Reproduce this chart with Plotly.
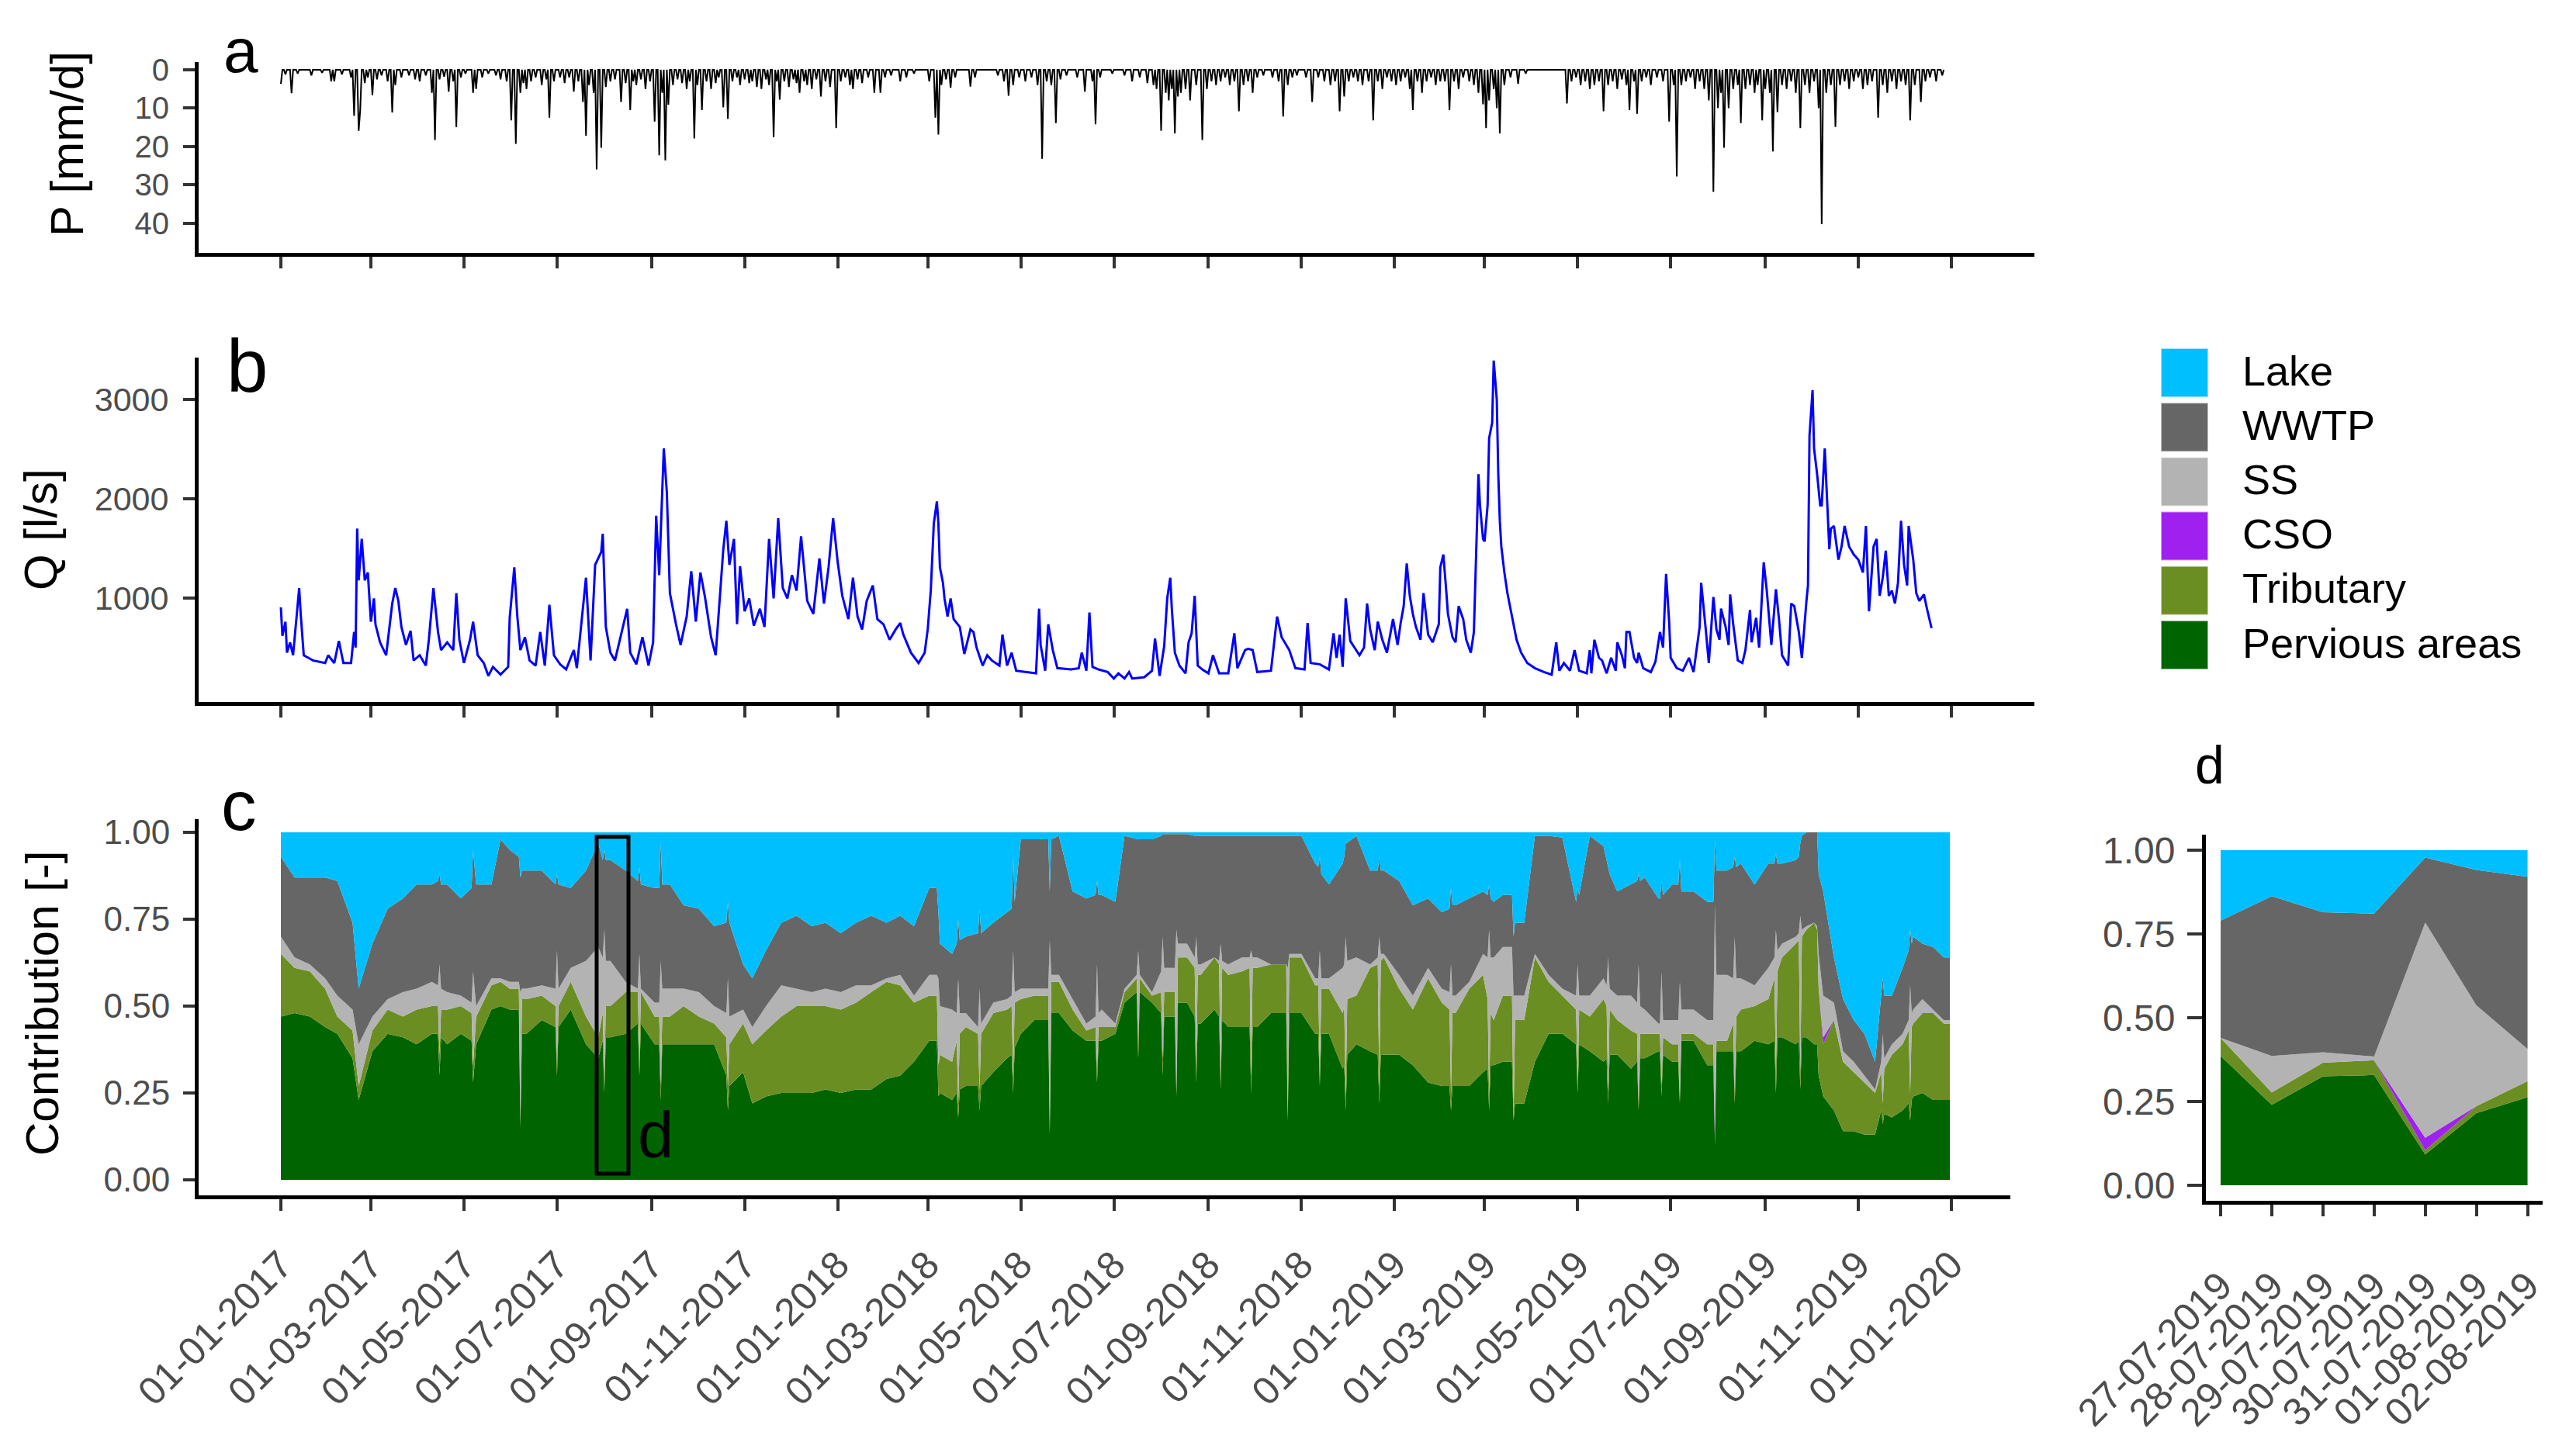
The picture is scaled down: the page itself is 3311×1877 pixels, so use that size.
import numpy as np
import pandas as pd
import plotly.graph_objects as go

W, H = 3311, 1877
START = pd.Timestamp("2017-01-01")
FONT = "Liberation Sans, Arial, sans-serif"
TICKC = "#4D4D4D"

# ---------------- panel a: daily precipitation (day offset from 01-01-2017, mm/d)
rain_day = [0, 3, 7, 11, 20, 27, 33, 35, 40, 46, 48, 51, 52, 55, 57, 60, 63, 66, 70, 73, 75, 79, 84, 88, 91, 95,
            99, 101, 104, 107, 110, 113, 115, 118, 121, 126, 128, 132, 136, 141, 144, 148, 151, 154, 157, 159,
            161, 164, 167, 171, 174, 176, 179, 183, 186, 189, 192, 195, 198, 200, 202, 205, 207, 210, 213, 216,
            219, 223, 226, 229, 231, 233, 236, 239, 242, 245, 248, 250, 252, 254, 257, 260, 263, 266, 268, 271,
            273, 276, 279, 282, 285, 287, 290, 293, 296, 299, 301, 304, 307, 309, 312, 315, 318, 320, 323, 325,
            327, 330, 333, 336, 338, 340, 343, 345, 348, 351, 354, 357, 360, 364, 367, 370, 373, 375, 378, 381,
            385, 389, 393, 396, 400, 406, 410, 415, 425, 429, 431, 433, 436, 439, 442, 452, 455, 470, 474, 477,
            480, 484, 488, 492, 496, 499, 502, 505, 508, 511, 515, 522, 527, 532, 534, 537, 545, 553, 558, 563,
            568, 572, 574, 577, 580, 582, 584, 586, 588, 590, 593, 596, 600, 604, 607, 610, 613, 616, 619, 622,
            625, 628, 631, 634, 637, 640, 644, 650, 654, 657, 660, 663, 666, 672, 676, 680, 684, 688, 691, 694,
            697, 700, 703, 706, 709, 713, 716, 719, 722, 725, 728, 731, 734, 737, 740, 742, 745, 748, 751, 754,
            757, 760, 763, 766, 769, 772, 775, 779, 782, 785, 788, 790, 792, 795, 797, 799, 802, 806, 811, 816,
            843, 846, 849, 852, 855, 858, 861, 864, 867, 870, 873, 876, 879, 882, 884, 887, 889, 892, 895, 898,
            902, 906, 910, 913, 915, 918, 921, 924, 927, 930, 933, 936, 939, 942, 944, 946, 949, 952, 955, 957,
            960, 963, 966, 968, 971, 973, 976, 978, 981, 984, 987, 990, 993, 996, 999, 1002, 1005, 1008, 1010,
            1013, 1016, 1019, 1022, 1025, 1028, 1031, 1034, 1037, 1040, 1043, 1047, 1050, 1053, 1056, 1059,
            1062, 1065, 1068, 1071, 1075, 1078, 1081, 1085, 1089]
rain_mm = [3.7, 1.2, 6.1, 1.0, 1.5, 0.8, 3.0, 3.0, 1.2, 2.0, 12.0, 15.9, 10.6, 3.5, 2.0, 6.6, 2.5, 1.5, 3.0, 11.1,
           4.0, 2.0, 1.5, 2.5, 3.0, 1.5, 6.0, 18.3, 2.5, 1.8, 5.7, 3.0, 14.9, 2.0, 1.0, 6.0, 5.0, 2.0, 1.0, 1.5,
           2.5, 3.0, 13.2, 19.3, 6.0, 3.5, 5.0, 3.0, 2.0, 4.0, 2.5, 12.5, 3.0, 2.0, 3.5, 2.0, 5.7, 3.0, 8.4,
           17.2, 4.0, 6.0, 26.0, 20.3, 4.5, 3.0, 2.5, 8.4, 3.5, 10.5, 3.0, 4.0, 2.5, 5.0, 3.0, 13.5, 22.3, 6.0,
           23.6, 9.1, 4.0, 2.5, 3.5, 5.0, 3.0, 17.9, 4.0, 10.5, 3.0, 5.0, 3.5, 2.0, 9.8, 12.8, 3.0, 2.0, 4.0,
           2.5, 3.5, 3.0, 4.5, 5.0, 2.5, 4.0, 17.6, 3.0, 7.8, 3.0, 4.5, 2.5, 3.5, 6.0, 3.0, 4.0, 5.0, 2.5, 7.0,
           3.0, 4.5, 15.2, 3.0, 2.0, 4.0, 5.0, 2.5, 3.5, 2.0, 6.0, 6.0, 2.0, 1.5, 3.0, 2.0, 1.0, 3.0, 12.5, 16.9,
           4.0, 2.5, 4.7, 2.0, 4.4, 2.0, 1.5, 3.0, 6.8, 4.0, 2.0, 3.0, 2.0, 4.0, 23.2, 3.0, 4.0, 13.9, 2.5, 1.5,
           2.0, 5.7, 3.0, 14.2, 2.0, 1.0, 1.5, 3.0, 2.0, 3.5, 4.0, 5.0, 15.9, 6.0, 8.0, 5.0, 16.6, 7.0, 6.0, 5.0,
           8.0, 4.0, 18.3, 5.0, 3.0, 4.0, 3.0, 2.0, 4.0, 3.0, 10.8, 4.0, 3.0, 6.0, 2.0, 1.5, 2.0, 3.0, 12.2, 4.0,
           2.0, 1.5, 2.0, 8.4, 2.0, 3.0, 4.0, 3.0, 10.8, 7.0, 3.0, 2.0, 3.0, 4.0, 3.0, 13.2, 3.0, 5.0, 2.0, 3.0,
           4.0, 3.0, 2.0, 5.0, 10.5, 3.0, 6.0, 3.0, 2.0, 4.0, 3.0, 3.0, 10.5, 3.0, 5.0, 2.0, 3.0, 4.0, 6.0, 9.0,
           15.2, 8.0, 5.0, 10.0, 16.6, 4.0, 2.0, 3.7, 1.0, 8.8, 3.0, 2.0, 4.0, 3.0, 5.0, 4.0, 3.0, 10.8, 4.0,
           3.0, 5.0, 2.5, 4.0, 10.5, 3.0, 11.5, 3.0, 2.0, 4.0, 2.0, 3.0, 13.5, 4.0, 27.8, 4.0, 3.0, 2.0, 5.0,
           3.0, 5.0, 8.0, 31.8, 10.0, 6.0, 20.3, 10.0, 5.0, 4.0, 13.9, 5.0, 4.0, 6.0, 4.0, 13.2, 5.0, 6.0, 21.3,
           11.0, 4.0, 5.0, 3.0, 6.0, 15.2, 4.0, 6.0, 3.0, 10.0, 40.2, 6.0, 4.0, 14.9, 4.0, 3.0, 5.0, 3.0, 2.0,
           5.0, 4.0, 3.0, 12.5, 4.0, 6.0, 3.0, 5.0, 3.0, 4.0, 13.2, 4.0, 8.4, 3.0, 2.0, 3.0, 1.5]
p_days_total = 1091

# ---------------- panel b: discharge Q [l/s]
q_day = [0, 1, 3, 4, 6, 8, 10, 12, 13, 15, 18, 21, 29, 31, 35, 38, 41, 46, 48, 49, 50, 51, 53, 55, 57, 59, 61, 62,
         65, 69, 73, 75, 77, 79, 82, 85, 87, 91, 95, 97, 100, 103, 105, 109, 113, 115, 117, 120, 124, 126, 129,
         133, 136, 139, 144, 149, 150, 153, 155, 157, 160, 163, 167, 170, 173, 176, 179, 183, 187, 192, 194, 198,
         200, 203, 206, 210, 211, 213, 216, 219, 224, 227, 229, 233, 237, 241, 244, 246, 248, 251, 253, 255, 259,
         262, 266, 269, 272, 275, 278, 282, 285, 288, 290, 292, 294, 297, 299, 301, 304, 307, 310, 314, 317, 320,
         323, 326, 329, 332, 335, 338, 341, 345, 349, 353, 356, 359, 362, 365, 368, 372, 375, 378, 381, 384, 388,
         391, 395, 399, 403,
         406, 408, 413, 418, 422, 424, 426, 428, 430, 431, 432, 434, 435, 437, 439, 441, 445, 448, 452, 454, 456,
         460, 463, 466, 471, 473, 476, 479, 482, 488, 495, 497, 498, 501, 503, 506, 509, 518, 523, 525, 528, 530,
         532, 536, 542, 546, 549, 553, 556, 558, 566, 571, 573, 576, 579, 581, 583, 584, 586, 589, 593, 595, 597,
         599, 601, 604, 608, 611, 615, 621, 625, 627, 632, 634, 637, 640, 649, 653, 656, 661, 665, 671, 673, 675,
         681, 687, 690, 692, 694, 696, 698, 701, 707, 710, 712, 714, 717, 719, 722, 725, 729, 732, 734, 736, 738,
         740, 742, 744, 747, 749,
         752, 755, 759, 760, 762, 764, 765, 768, 770, 772, 775, 777, 780, 782, 785, 786, 788, 789, 791, 792, 794,
         795, 797, 798, 799, 800, 802, 804, 806, 808, 810, 813, 817, 822, 828, 833, 836, 838, 841, 845, 848, 851,
         856, 858, 859, 861, 864, 866, 869, 872, 875, 876, 879, 881, 882, 884, 887, 889, 890, 893, 898, 901, 904,
         906, 908, 910, 911, 915, 919, 923, 926, 930, 931, 934, 936, 939, 941, 943, 944, 947, 949, 950, 952, 955,
         958, 960, 963, 964, 967, 969, 972, 974, 977, 980, 982, 984, 988, 990, 992, 995, 997, 1000, 1001, 1002,
         1004, 1005, 1007, 1009, 1010, 1012, 1013, 1015, 1016, 1018, 1021, 1023, 1025, 1028, 1031, 1034, 1037,
         1039, 1041, 1044, 1046, 1048, 1050, 1052, 1054, 1056, 1058, 1060, 1062, 1064, 1066, 1067, 1070, 1072,
         1074, 1077, 1079, 1081, 1082]
q_lps = [904, 617, 760, 448, 552, 422, 760, 1099, 838, 422, 396, 370, 344, 422, 344, 565, 344, 344, 656, 500, 1698,
         1177, 1594, 1177, 1255, 760, 995, 734, 552, 422, 943, 1099, 969, 708, 526, 669, 370, 422, 318, 578, 1099,
         656, 474, 552, 474, 1047, 578, 344, 578, 760, 422, 344, 214, 305, 227, 305, 799, 1307, 812, 474, 604, 370,
         318, 656, 318, 930, 422, 331, 279, 474, 292, 930, 1203, 370, 1333, 1463, 1646, 708, 448, 370, 682, 890,
         448, 331, 604, 318, 552, 1828, 1229, 2505, 2062, 1047, 734, 526, 812, 1268, 760, 1255, 1008, 604, 422,
         1073, 1489, 1776, 1333, 1594, 734, 1320, 865, 995, 721, 890, 708, 1594, 995, 1802, 1099, 995, 1229, 1073,
         1620, 969, 838, 1398, 943, 1307, 1802, 1359, 1021, 786, 1203, 812, 682, 969, 1125, 786, 734, 578, 682,
         747, 630, 448, 344, 448, 682, 1073, 1750, 1971, 1750, 1307, 1151, 995, 812, 995, 786, 708, 435, 682, 656,
         500, 318, 422, 370, 318, 630, 318, 448, 266, 253, 240, 891, 526, 266, 734, 474, 292, 279, 292, 448, 266,
         852, 305, 279, 253, 188, 240, 188, 253, 188, 201, 266, 591, 214, 513, 995, 1203, 891, 448, 318, 240, 552,
         643, 1021, 318, 279, 240, 422, 240, 240, 643, 292, 474, 487, 474, 253, 266, 812, 604, 474, 292, 279, 747,
         344, 331, 279, 643, 396, 630, 305, 995, 565, 422, 500, 943, 682, 474, 760, 578, 448, 786, 526, 747, 917,
         1346, 1021, 838, 708, 578, 1047,
         630, 552, 734, 1307, 1437, 1047, 838, 604, 552, 917, 786, 578, 448, 656, 2245, 1932, 1594, 1568, 1932,
         2609, 2765, 3390, 3000, 2245, 1776, 1516, 1255, 1047, 891, 760, 578, 448, 344, 292, 253, 227, 552, 266,
         344, 266, 474, 266, 240, 474, 240, 578, 396, 370, 240, 396, 266, 552, 422, 292, 656, 656, 396, 344, 448,
         292, 253, 357, 656, 500, 1242, 760, 396, 292, 266, 396, 253, 708, 1151, 682, 344, 1008, 682, 578, 891,
         708, 526, 1034, 734, 370, 344, 474, 878, 552, 799, 500, 1359, 1073, 526, 1086, 786, 422, 318, 943, 917,
         656, 396, 969, 1125, 2635, 3091, 2505, 2245, 1932, 1932, 2505, 2140, 1490, 1698, 1724, 1385, 1516, 1724,
         1516, 1437, 1385, 1255, 1724, 865, 1516, 1594, 1021, 1203, 1476, 1021, 1073, 943, 1151, 1776, 1333, 1125,
         1724, 1385, 1047, 969, 1034, 891, 760, 695]

# ---------------- panel c: cumulative contribution levels read from the stacked areas
c_day = [0, 9, 19, 29, 37, 47, 51, 60, 70, 80, 89, 99, 103, 104, 105, 109, 118, 125, 126, 128, 138, 144, 150, 156,
         157, 158, 161, 171, 180, 181, 182, 190, 200, 208, 211, 212, 213, 216, 226, 234, 235, 236, 245, 248, 249,
         250, 255, 264, 274, 284, 292, 293, 294, 303, 309, 318, 328, 338, 348, 357, 367, 377, 387, 397,
         406, 415, 425, 430, 431, 432, 440, 443, 444, 445, 449, 457, 458, 459, 467, 476, 479, 480, 481, 485, 494,
         503, 504, 505, 510, 519, 528, 534, 535, 536, 538, 547, 553, 561, 562, 563, 571, 577, 578, 579, 580, 586,
         587, 588, 594, 599, 600, 601, 603, 612, 615, 616, 617, 621, 630, 635, 636, 637, 640, 649, 659, 660, 661,
         669, 678, 680, 681, 682, 687, 696, 697, 698, 699, 705, 714, 719, 720, 721, 723, 733, 742,
         752, 761, 766, 767, 768, 770, 779, 788, 791, 792, 793, 795, 801, 807, 808, 809, 815, 822, 831, 840, 849,
         850, 851, 858, 867, 869, 870, 871, 876, 885, 889, 890, 891, 894, 903, 904, 905, 906, 912, 916, 917, 918,
         926, 935, 939, 940, 941, 948, 952, 953, 954, 957, 966, 975, 979, 980, 981, 984, 993, 995, 996, 997, 1000,
         1005, 1007, 1008, 1011, 1018, 1024, 1031, 1038, 1045, 1049, 1050, 1051, 1056, 1063, 1067, 1068, 1069,
         1070, 1076, 1083, 1090, 1094]
c_top_pervious = [.47, .48, .47, .44, .42, .35, .23, .37, .42, .41, .39, .42, .42, .30, .41, .39, .42, .40, .28, .39,
                  .49, .50, .49, .49, .15, .42, .42, .46, .44, .30, .44, .49, .39, .35, .40, .25, .41, .41, .42, .45,
                  .30, .45, .39, .39, .23, .39, .39, .39, .39, .39, .30, .20, .27, .31, .22, .24, .25, .25, .25, .26,
                  .25, .26, .26, .29,
                  .30, .34, .40, .40, .24, .25, .23, .25, .18, .26, .27, .27, .20, .27, .31, .35, .36, .25, .38, .42,
                  .46, .46, .13, .48, .48, .43, .40, .40, .28, .40, .40, .42, .51, .54, .35, .54, .51, .48, .30, .47,
                  .47, .47, .24, .51, .51, .47, .28, .45, .45, .49, .47, .26, .46, .44, .44, .44, .25, .44, .44, .48,
                  .48, .17, .48, .48, .42, .42, .27, .42, .42, .32, .33, .20, .36, .39, .37, .36, .22, .36, .36, .36,
                  .33,
                  .28, .27, .27, .20, .27, .27, .27, .31, .32, .20, .33, .33, .34, .34, .17, .22, .22, .34, .42, .42,
                  .39, .25, .39, .37, .34, .35, .22, .36, .36, .32, .34, .20, .35, .35, .37, .37, .24, .36, .34, .34,
                  .22, .40, .40, .33, .33, .10, .37, .37, .37, .22, .37, .37, .40, .39, .40, .25, .41, .41, .39, .40,
                  .26, .41, .41, .39, .39, .30, .24, .20, .14, .14, .13, .13, .20, .16, .19, .18, .20, .22, .17, .23,
                  .24, .25, .23, .23, .23]
c_top_tributary = [.65, .61, .60, .55, .47, .43, .27, .43, .49, .47, .49, .50, .50, .36, .49, .49, .50, .48, .33, .47,
                   .56, .57, .55, .55, .17, .52, .52, .53, .50, .34, .50, .57, .47, .41, .48, .29, .50, .50, .54, .54,
                   .34, .54, .47, .47, .27, .47, .47, .50, .47, .45, .41, .27, .39, .45, .39, .43, .47, .50, .50, .50,
                   .49, .51, .54, .57,
                   .56, .51, .53, .53, .33, .36, .34, .40, .22, .42, .44, .42, .26, .42, .48, .49, .50, .30, .51, .52,
                   .53, .53, .14, .57, .57, .49, .43, .44, .32, .44, .44, .44, .54, .58, .40, .58, .53, .54, .35, .54,
                   .54, .54, .25, .64, .64, .61, .32, .59, .59, .64, .62, .30, .61, .59, .60, .61, .28, .61, .61, .62,
                   .62, .18, .64, .64, .56, .56, .30, .55, .55, .48, .50, .24, .52, .53, .61, .62, .26, .63, .64, .55,
                   .49,
                   .58, .51, .49, .25, .48, .48, .55, .59, .52, .24, .48, .46, .53, .53, .18, .46, .46, .64, .57, .53,
                   .49, .28, .49, .47, .52, .50, .25, .49, .46, .43, .42, .22, .42, .42, .42, .42, .27, .41, .39, .39,
                   .23, .42, .42, .39, .39, .105, .40, .40, .45, .25, .47, .49, .50, .52, .58, .30, .60, .64, .68, .69,
                   .30, .70, .72, .74, .72, .55, .39, .46, .34, .31, .28, .25, .31, .22, .32, .36, .39, .43, .25, .44,
                   .45, .48, .48, .45, .45]
cso_day = [940, 1011]
cso_frac = [0.035, 0.02]
c_top_ss = [.70, .64, .62, .58, .53, .49, .39, .47, .52, .54, .55, .57, .56, .62, .55, .54, .53, .51, .60, .50,
            .58, .58, .57, .57, .54, .55, .55, .56, .55, .66, .55, .61, .63, .67, .64, .72, .63, .63, .57, .55,
            .65, .55, .51, .51, .63, .55, .55, .55, .54, .50, .48, .58, .47, .49, .44, .50, .56, .55, .54, .55,
            .54, .56, .56, .58,
            .59, .53, .59, .59, .58, .50, .49, .48, .58, .48, .48, .44, .55, .45, .51, .52, .53, .66, .54, .55,
            .55, .55, .69, .59, .59, .52, .45, .47, .62, .48, .49, .45, .55, .59, .66, .59, .54, .60, .70, .61,
            .61, .61, .72, .68, .68, .64, .70, .62, .62, .64, .63, .68, .63, .62, .64, .64, .66, .64, .64, .62,
            .62, .61, .65, .65, .58, .58, .66, .58, .58, .61, .62, .70, .63, .64, .62, .64, .70, .65, .65, .59,
            .53,
            .61, .55, .54, .62, .53, .53, .57, .65, .64, .72, .64, .64, .67, .67, .53, .53, .53, .65, .59, .55,
            .53, .62, .53, .53, .58, .56, .64, .55, .53, .53, .51, .62, .50, .49, .45, .45, .60, .46, .46, .46,
            .57, .49, .49, .46, .46, .79, .59, .59, .58, .70, .58, .58, .56, .61, .64, .72, .66, .68, .70, .71,
            .76, .72, .73, .74, .73, .65, .53, .51, .37, .34, .30, .26, .34, .42, .35, .39, .42, .46, .56, .48,
            .49, .52, .49, .46, .46]
c_top_wwtp = [.93, .87, .87, .87, .86, .74, .55, .68, .78, .81, .85, .85, .86, .88, .85, .85, .81, .84, .95, .85,
              .85, .98, .95, .93, .87, .89, .89, .89, .85, .88, .85, .84, .89, .97, .92, .95, .92, .92, .89, .86,
              .90, .85, .84, .84, .97, .85, .85, .79, .78, .73, .74, .80, .74, .62, .58, .66, .74, .76, .73, .74,
              .71, .74, .76, .74,
              .76, .73, .84, .84, .77, .68, .65, .68, .75, .69, .70, .71, .78, .71, .74, .77, .78, .93, .80, .98,
              .98, .98, .83, .98, .99, .83, .81, .82, .86, .82, .82, .80, .99, .98, .98, .98, .98, .99, .995, .995,
              .995, .995, .995, .995, .995, .99, .99, .99, .99, .99, .99, .99, .99, .99, .99, .99, .99, .99, .99,
              .99, .99, .99, .99, .99, .91, .90, .93, .88, .85, .91, .93, .97, .97, .99, .89, .89, .93, .89, .89,
              .86, .79,
              .81, .77, .78, .84, .79, .79, .81, .83, .82, .85, .81, .80, .82, .82, .70, .74, .74, .99, .99, .985,
              .80, .84, .82, .99, .96, .92, .90, .88, .83, .85, .86, .88, .86, .87, .81, .81, .86, .82, .85, .85,
              .92, .83, .83, .80, .80, .98, .89, .89, .90, .93, .90, .91, .85, .91, .91, .94, .91, .91, .92, .93,
              .97, .99, 1.0, 1.0, 1.0, .88, .83, .64, .52, .46, .42, .34, .53, .58, .53, .53, .61, .66, .72, .68,
              .70, .68, .67, .64, .64]

# ---------------- panel d: daily contributions 27-07-2019 .. 02-08-2019
d_dates = ["2019-07-27", "2019-07-28", "2019-07-29", "2019-07-30", "2019-07-31", "2019-08-01", "2019-08-02"]
d_pervious = [0.386, 0.240, 0.325, 0.329, 0.092, 0.215, 0.263]
d_tributary = [0.054, 0.037, 0.041, 0.044, 0.013, 0.021, 0.048]
d_cso = [0.0, 0.0, 0.0, 0.0, 0.037, 0.0, 0.0]
d_ss = [0.0, 0.109, 0.031, 0.011, 0.642, 0.301, 0.096]
d_wwtp = [0.350, 0.477, 0.418, 0.427, 0.194, 0.404, 0.514]
d_lake = [0.210, 0.137, 0.185, 0.189, 0.022, 0.059, 0.079]

sources = ["Lake", "WWTP", "SS", "CSO", "Tributary", "Pervious areas"]
colors = {"Lake": "#00BFFF", "WWTP": "#666666", "SS": "#B3B3B3", "CSO": "#A020F0",
          "Tributary": "#6B8E23", "Pervious areas": "#006400"}

# ---------------- helpers (pixel layout)
def fx(px):
    return px / W

def fy(py):
    return 1 - py / H

PX0, PXDAY = 354.0, 1.9662          # pixel of 01-01-2017 and pixels per day

def day_at(px):
    return (px - PX0) / PXDAY

def dstr(d, base=START):
    return (base + pd.Timedelta(days=float(d))).strftime("%Y-%m-%d %H:%M:%S")

def dates(days):
    return [START + pd.Timedelta(days=int(d)) for d in days]

fig = go.Figure()

# panel a
p = np.zeros(p_days_total)
p[np.array(rain_day)] = rain_mm
fig.add_trace(go.Scatter(x=dates(range(p_days_total)), y=p, mode="lines",
                         line=dict(color="black", width=2), xaxis="x", yaxis="y",
                         showlegend=False, hoverinfo="skip"))

# panel b
fig.add_trace(go.Scatter(x=dates(q_day), y=q_lps, mode="lines",
                         line=dict(color="#0000FF", width=3), xaxis="x2", yaxis="y2",
                         showlegend=False, hoverinfo="skip"))

# panel c
cd = np.array(c_day)
cso = np.zeros(len(cd))
for dd, vv in zip(cso_day, cso_frac):
    cso[np.where(cd == dd)[0]] = vv
levels = [
    ("Pervious areas", np.array(c_top_pervious)),
    ("Tributary", np.array(c_top_tributary)),
    ("CSO", np.array(c_top_tributary) + cso),
    ("SS", np.array(c_top_ss)),
    ("WWTP", np.array(c_top_wwtp)),
    ("Lake", np.ones(len(cd))),
]
xc = dates(c_day)
for i, (name, lev) in enumerate(levels):
    fig.add_trace(go.Scatter(x=xc, y=lev, mode="lines", line=dict(width=0, color=colors[name]),
                             fill="tozeroy" if i == 0 else "tonexty", fillcolor=colors[name],
                             xaxis="x3", yaxis="y3", showlegend=False, hoverinfo="skip"))

# panel d
for name, vals in [("Pervious areas", d_pervious), ("Tributary", d_tributary), ("CSO", d_cso),
                   ("SS", d_ss), ("WWTP", d_wwtp), ("Lake", d_lake)]:
    fig.add_trace(go.Scatter(x=d_dates, y=vals, mode="lines", stackgroup="d",
                             line=dict(width=0, color=colors[name]), fillcolor=colors[name],
                             xaxis="x4", yaxis="y4", showlegend=False, hoverinfo="skip"))

axis_common = dict(showline=True, linewidth=5, linecolor="black", ticks="outside", ticklen=15, tickwidth=4,
                   tickcolor="#333333", showgrid=False, zeroline=False, fixedrange=True, automargin=False)
xdate_common = dict(axis_common, type="date", dtick="M2", tick0="2017-01-01")

x_lo = dstr(day_at(248))
x_hi_ab = dstr(day_at(2614))
x_hi_c = dstr(day_at(2583))
D0 = pd.Timestamp("2019-07-27")

fig.update_layout(
    width=W, height=H, margin=dict(l=0, r=0, t=0, b=0, pad=0, autoexpand=False),
    paper_bgcolor="white", plot_bgcolor="rgba(0,0,0,0)", showlegend=False,
    font=dict(family=FONT, color="black"),
    xaxis=dict(xdate_common, domain=[fx(248), fx(2614)], anchor="y", range=[x_lo, x_hi_ab],
               showticklabels=False),
    yaxis=dict(axis_common, domain=[fy(318), fy(72)], anchor="x", range=[47.7, -2.0],
               tickvals=[0, 10, 20, 30, 40], tickfont=dict(size=40, color=TICKC), ticklabelstandoff=10),
    xaxis2=dict(xdate_common, domain=[fx(248), fx(2614)], anchor="y2", range=[x_lo, x_hi_ab],
                showticklabels=False),
    yaxis2=dict(axis_common, domain=[fy(897), fy(453)], anchor="x2", range=[-49, 3420],
                tickvals=[1000, 2000, 3000], tickfont=dict(size=43, color=TICKC), ticklabelstandoff=10),
    xaxis3=dict(xdate_common, domain=[fx(248), fx(2583)], anchor="y3", range=[x_lo, x_hi_c],
                tickformat="%d-%m-%Y", tickangle=-45, tickfont=dict(size=50, color=TICKC),
                ticklabelstandoff=20),
    yaxis3=dict(axis_common, domain=[fy(1533), fy(1048)], anchor="x3", range=[-0.0446, 1.038],
                tickvals=[0, 0.25, 0.5, 0.75, 1.0], tickformat=".2f",
                tickfont=dict(size=44, color=TICKC), ticklabelstandoff=8),
    xaxis4=dict(axis_common, type="date", domain=[fx(2835), fx(3269)], anchor="y4",
                range=[dstr(-0.288, D0), dstr(6.295, D0)], tickvals=d_dates, tickformat="%d-%m-%Y",
                tickangle=-45, tickfont=dict(size=50, color=TICKC), ticklabelstandoff=40),
    yaxis4=dict(axis_common, domain=[fy(1540), fy(1068)], anchor="x4", range=[-0.0463, 1.0463],
                tickvals=[0, 0.25, 0.5, 0.75, 1.0], tickformat=".2f", ticklen=19,
                tickfont=dict(size=48, color=TICKC), ticklabelstandoff=6),
)

# box marking the zoomed period in panel c
fig.add_shape(type="rect", xref="x3", yref="y3", x0=dstr(day_at(761)), x1=dstr(day_at(802)),
              y0=0.018, y1=0.987, line=dict(color="black", width=5), fillcolor="rgba(0,0,0,0)")

annots = []
# axis titles
for txt, x, y in [("P [mm/d]", 78, 178), ("Q [l/s]", 44, 675), ("Contribution [-]", 46, 1285)]:
    annots.append(dict(text=txt, x=fx(x), y=fy(y), xref="paper", yref="paper", showarrow=False,
                       textangle=-90, xanchor="center", yanchor="middle",
                       font=dict(size=60, color="black", family=FONT)))
# panel letters
for txt, x, y, s in [("a", 302, 58, 80), ("b", 310, 463, 96), ("c", 300, 1030, 91), ("d", 837, 1455, 83),
                     ("d", 2840, 978, 68)]:
    annots.append(dict(text=txt, x=fx(x), y=fy(y), xref="paper", yref="paper", showarrow=False,
                       xanchor="center", yanchor="middle", font=dict(size=s, color="black", family=FONT)))

# legend
for i, name in enumerate(sources):
    y0 = 441 + i * 70.2
    y1 = y0 + 63
    fig.add_shape(type="rect", xref="paper", yref="paper", x0=fx(2777), x1=fx(2838), y0=fy(y1), y1=fy(y0),
                  line=dict(width=2, color="rgba(255,255,255,0.6)"), fillcolor=colors[name])
    annots.append(dict(text=name, x=fx(2880), y=fy((y0 + y1) / 2 - 3), xref="paper", yref="paper",
                       showarrow=False, xanchor="left", yanchor="middle",
                       font=dict(size=54, color="black", family=FONT)))

fig.update_layout(annotations=annots)
fig.write_html("out.html")
